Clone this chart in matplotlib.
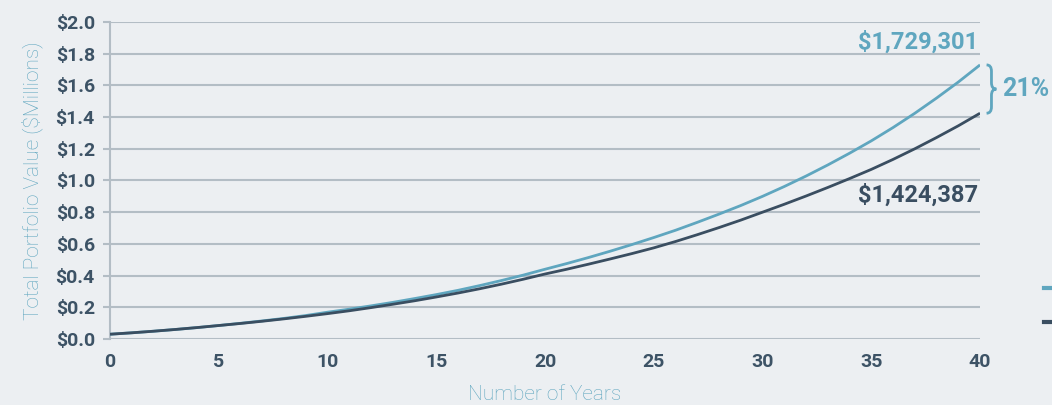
import matplotlib
matplotlib.use("Agg")
import matplotlib.pyplot as plt
from matplotlib.path import Path
from matplotlib.patches import PathPatch
from matplotlib.lines import Line2D

years = list(range(0, 41))
series_high = [0.030, 0.039, 0.049, 0.060, 0.072, 0.085, 0.099, 0.114, 0.130, 0.148,
               0.169, 0.188, 0.209, 0.231, 0.255, 0.280, 0.307, 0.337, 0.369, 0.403,
               0.440, 0.476, 0.514, 0.554, 0.596, 0.640, 0.686, 0.736, 0.788, 0.842,
               0.900, 0.962, 1.028, 1.098, 1.172, 1.250, 1.334, 1.424, 1.520, 1.621,
               1.729301]
series_low = [0.030, 0.039, 0.049, 0.060, 0.072, 0.085, 0.098, 0.112, 0.127, 0.143,
              0.160, 0.178, 0.198, 0.219, 0.241, 0.265, 0.290, 0.317, 0.346, 0.377,
              0.410, 0.440, 0.472, 0.505, 0.539, 0.575, 0.615, 0.658, 0.703, 0.750,
              0.800, 0.850, 0.902, 0.956, 1.012, 1.070, 1.133, 1.200, 1.271, 1.345,
              1.424387]
y_ticks = [0.0, 0.2, 0.4, 0.6, 0.8, 1.0, 1.2, 1.4, 1.6, 1.8, 2.0]
y_tick_labels = ["$0.0", "$0.2", "$0.4", "$0.6", "$0.8", "$1.0", "$1.2", "$1.4", "$1.6", "$1.8", "$2.0"]
x_ticks = [0, 5, 10, 15, 20, 25, 30, 35, 40]
label_high = "$1,729,301"
label_low = "$1,424,387"
diff_label = "21%"

BG = "#eceff2"
LIGHT = "#5fa6bf"
DARK = "#3a4e61"
GRID = "#b3bdc5"
TICK = "#3d5366"

plt.rcParams['font.family'] = ['Roboto', 'DejaVu Sans']

fig = plt.figure(figsize=(10.52, 4.05), dpi=100, facecolor=BG)
ax = fig.add_axes([0.1046, 0.163, 0.827, 0.7827])
ax.set_facecolor(BG)

ax.set_xlim(0, 40)
ax.set_ylim(0, 2.0)
for v in y_ticks:
    ax.axhline(v, color=GRID, lw=1.5, zorder=1)

ax.plot(years, series_high, color=LIGHT, lw=2.0, zorder=3, solid_capstyle='butt')
ax.plot(years, series_low, color=DARK, lw=2.0, zorder=3, solid_capstyle='butt')

for s in ['top', 'right', 'bottom']:
    ax.spines[s].set_visible(False)
ax.spines['left'].set_color(GRID)
ax.spines['left'].set_linewidth(1.5)

ax.set_yticks(y_ticks)
ax.set_yticklabels(y_tick_labels)
ax.set_xticks(x_ticks)
ax.set_xticklabels([str(t) for t in x_ticks])
ax.tick_params(axis='y', length=5, width=1.5, color=GRID, pad=6,
               labelsize=14, labelcolor=TICK)
ax.tick_params(axis='x', length=0, pad=10, labelsize=14, labelcolor=TICK)
for lab in ax.get_xticklabels() + ax.get_yticklabels():
    lab.set_fontweight('bold')

ax.set_ylabel("Total Portfolio Value ($Millions)", color=LIGHT, fontsize=15,
              fontweight='light', labelpad=9)
ax.set_xlabel("Number of Years", color=LIGHT, fontsize=15, fontweight='light',
              labelpad=10)

ax.text(39.9, 1.87, label_high, color=LIGHT, fontsize=17, fontweight='bold',
        ha='right', va='center', zorder=4)
ax.text(39.9, 0.905, label_low, color=DARK, fontsize=17, fontweight='bold',
        ha='right', va='center', zorder=4)

# curly brace
ytop, ybot = series_high[-1], series_low[-1]
ymid = (ytop + ybot) / 2
x0, w = 40.3, 0.45
xm = x0 + w / 2
r = 0.04
verts = [(x0, ytop), (xm, ytop), (xm, ytop - r),
         (xm, ymid + r), (xm, ymid), (x0 + w, ymid),
         (xm, ymid), (xm, ymid - r),
         (xm, ybot + r), (xm, ybot), (x0, ybot)]
codes = [Path.MOVETO, Path.CURVE3, Path.CURVE3,
         Path.LINETO, Path.CURVE3, Path.CURVE3,
         Path.CURVE3, Path.CURVE3,
         Path.LINETO, Path.CURVE3, Path.CURVE3]
brace = PathPatch(Path(verts, codes), facecolor='none', edgecolor=LIGHT, lw=2,
                  clip_on=False, zorder=4)
ax.add_patch(brace)
ax.text(41.0, ymid, diff_label, color=LIGHT, fontsize=18, fontweight='bold',
        ha='left', va='center', clip_on=False)

# clipped legend stubs at right edge
fig.add_artist(Line2D([0.992, 1.0], [1 - 288 / 405] * 2, color=LIGHT, lw=3,
                      transform=fig.transFigure))
fig.add_artist(Line2D([0.992, 1.0], [1 - 322 / 405] * 2, color=DARK, lw=3,
                      transform=fig.transFigure))

fig.savefig("out.png", dpi=100, facecolor=BG)
